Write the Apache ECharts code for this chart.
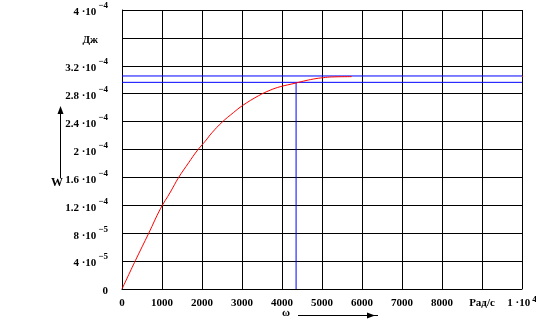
<!DOCTYPE html>
<html>
<head>
<meta charset="utf-8">
<script src="https://cdn.jsdelivr.net/npm/echarts@6/dist/echarts.min.js"></script>
<style>
html,body{margin:0;padding:0;background:#fff;}
#chart{width:536px;height:331px;}
</style>
</head>
<body>
<div id="chart"></div>
<script>
// ---- data ----
var omega = [0, 337, 669, 960, 1210, 1417, 1666, 1875, 2082, 2249, 2499, 2788, 3013, 3411, 3703, 3953, 4327, 4534, 4783, 5032, 5241, 5740];
var energy = [0, 0.41e-4, 0.80e-4, 1.15e-4, 1.39e-4, 1.60e-4, 1.81e-4, 1.98e-4, 2.12e-4, 2.24e-4, 2.39e-4, 2.53e-4, 2.63e-4, 2.77e-4, 2.85e-4, 2.90e-4, 2.95e-4, 2.98e-4, 3.01e-4, 3.03e-4, 3.04e-4, 3.045e-4];
var stubOmega = [10000, 10100];
var stubEnergy = [3.05e-4, 3.05e-4];
var blueUpperOmega = [0, 10000];
var blueUpperEnergy = [3.054e-4, 3.054e-4];
var blueLowerOmega = [0, 10000];
var blueLowerEnergy = [2.963e-4, 2.963e-4];
var blueVertOmega = [4352, 4352];
var blueVertEnergy = [0, 2.963e-4];
// tick labels: [mantissa, exponent] or plain text
var yTickLabels = [['0'], ['4 ·10', '−5'], ['8 ·10', '−5'], ['1.2 ·10', '−4'], ['1.6 ·10', '−4'], ['2 ·10', '−4'], ['2.4 ·10', '−4'], ['2.8 ·10', '−4'], ['3.2 ·10', '−4'], ['Дж'], ['4 ·10', '−4']];
var xTickLabels = [['0'], ['1000'], ['2000'], ['3000'], ['4000'], ['5000'], ['6000'], ['7000'], ['8000'], ['Рад/с'], ['1 ·10', '4']];

function zip(a, b) { return a.map(function (v, i) { return [v, b[i]]; }); }
function fmt(lbl) {
  if (lbl.length === 2) return '{a|' + lbl[0] + '}{s|' + lbl[1] + '}';
  return '{a|' + lbl[0] + '}';
}
var FONT = 'Liberation Serif';
var baseRich = {
  a: { fontFamily: FONT, fontWeight: 'bold', fontSize: 11, color: '#000', lineHeight: 12, verticalAlign: 'middle' },
  s: { fontFamily: FONT, fontWeight: 'bold', fontSize: 9, color: '#000', lineHeight: 10, padding: [0, 0, 8, 2], verticalAlign: 'bottom' },
  z: { fontFamily: FONT, fontWeight: 'bold', fontSize: 11, color: '#000' },
  d: { fontFamily: FONT, fontWeight: 'bold', fontSize: 11, color: '#000', padding: [0, 10, 0, 0] }
};
var xRich = {
  a: baseRich.a,
  s: { fontFamily: FONT, fontWeight: 'bold', fontSize: 9, color: '#000', lineHeight: 10, padding: [0, 0, 5, 2], verticalAlign: 'bottom' }
};

var chart = echarts.init(document.getElementById('chart'), null, { renderer: 'canvas' });
chart.setOption({
  animation: false,
  backgroundColor: '#fff',
  grid: { left: 122, right: 14, top: 10, bottom: 42, containLabel: false, outerBoundsMode: 'none' },
  xAxis: {
    type: 'value', min: 0, max: 10000, interval: 1000,
    axisLine: { show: true, lineStyle: { color: '#000', width: 1 } },
    axisTick: { show: false },
    splitLine: { show: true, lineStyle: { color: '#000', width: 1 } },
    axisLabel: {
      margin: 8, rich: xRich, hideOverlap: false,
      formatter: function (v) { return fmt(xTickLabels[Math.round(v / 1000)]); }
    }
  },
  yAxis: {
    type: 'value', min: 0, max: 4e-4, interval: 4e-5,
    axisLine: { show: true, lineStyle: { color: '#000', width: 1 } },
    axisTick: { show: false },
    splitLine: { show: true, lineStyle: { color: '#000', width: 1 } },
    axisLabel: {
      margin: 14, rich: baseRich, hideOverlap: false, padding: [5, 0, 0, 0],
      formatter: function (v) {
        var i = Math.round(v / 4e-5);
        var l = yTickLabels[i];
        if (i === 0) return '{z|0}';
        if (l.length === 1) return '{d|' + l[0] + '}';
        return fmt(l);
      }
    }
  },
  series: [
    { type: 'line', data: zip(blueUpperOmega, blueUpperEnergy), showSymbol: false, lineStyle: { color: '#0000ff', width: 1 }, z: 3 },
    { type: 'line', data: zip(blueLowerOmega, blueLowerEnergy), showSymbol: false, lineStyle: { color: '#0000ff', width: 1 }, z: 3 },
    { type: 'line', data: zip(blueVertOmega, blueVertEnergy), showSymbol: false, lineStyle: { color: '#0000ff', width: 1 }, z: 3 },
    { type: 'line', data: zip(omega, energy), showSymbol: false, smooth: 0.4, lineStyle: { color: '#ff0000', width: 1 }, z: 4 },
    { type: 'line', data: zip(stubOmega, stubEnergy), showSymbol: false, clip: false, lineStyle: { color: '#ff0000', width: 1 }, z: 4 }
  ],
  graphic: [
    { type: 'text', left: 51, top: 177, style: { text: 'W', font: 'bold 12px "Liberation Serif"', fill: '#000' } },
    { type: 'line', shape: { x1: 60.5, y1: 178, x2: 60.5, y2: 112 }, style: { stroke: '#000', lineWidth: 1 } },
    { type: 'polygon', shape: { points: [[60.5, 106], [57.5, 114], [63.5, 114]] }, style: { fill: '#000' } },
    { type: 'text', left: 282, top: 308, style: { text: 'ω', font: 'bold 11px "Liberation Serif"', fill: '#000' } },
    { type: 'line', shape: { x1: 298, y1: 315.5, x2: 378, y2: 315.5 }, style: { stroke: '#000', lineWidth: 1 } },
    { type: 'polygon', shape: { points: [[375, 315.5], [367, 312.5], [367, 318.5]] }, style: { fill: '#000' } }
  ]
});
</script>
</body>
</html>
